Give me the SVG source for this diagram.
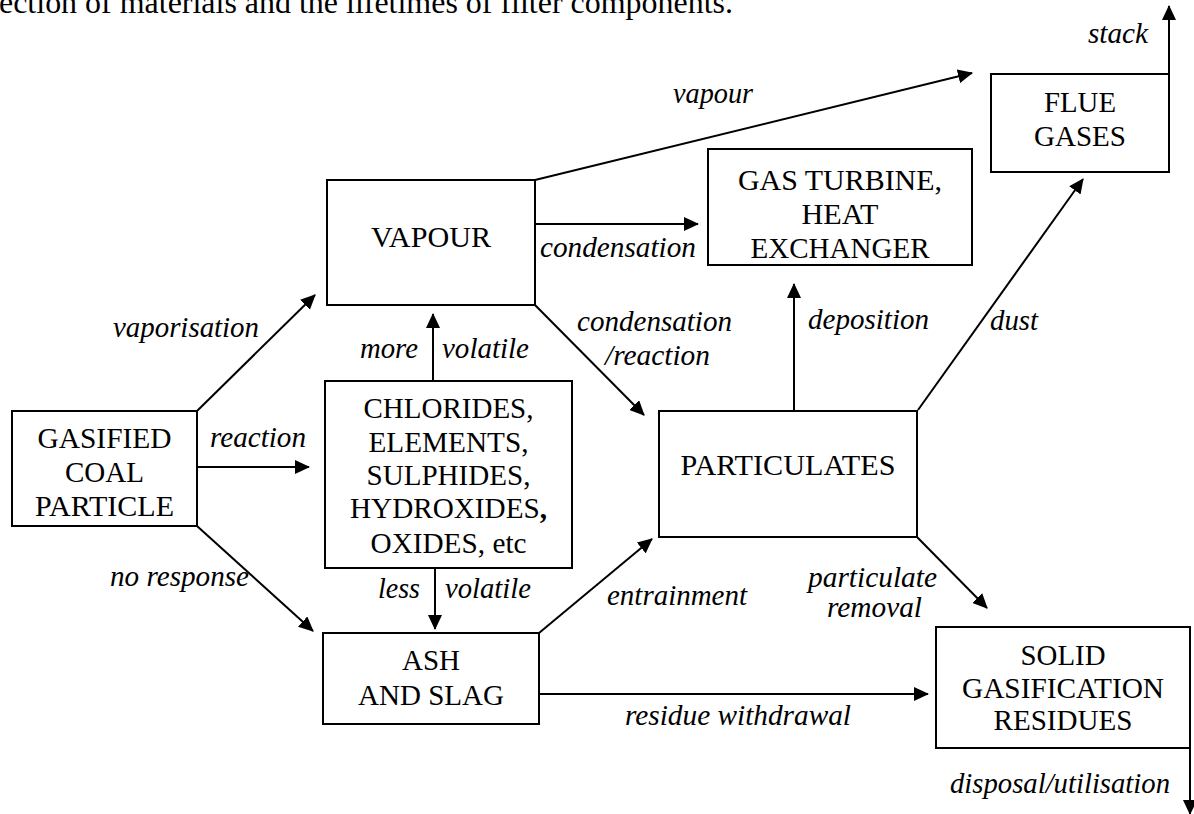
<svg xmlns="http://www.w3.org/2000/svg" width="1194" height="814" viewBox="0 0 1194 814">
<style>
.box{fill:#fff;stroke:#000;stroke-width:2}
.conn line{stroke:#000;stroke-width:2;fill:none;marker-end:url(#ah)}
</style>
<defs>
<marker id="ah" markerUnits="userSpaceOnUse" markerWidth="15" markerHeight="14" refX="14" refY="7" orient="auto">
<path d="M0,0 L15,7 L0,14 z" fill="#000"/>
</marker>
</defs>
<rect width="1194" height="814" fill="#fff"/>
<text x="-1" y="13" font-family="Liberation Serif, serif" font-size="32" textLength="734" lengthAdjust="spacingAndGlyphs">ection of materials and the lifetimes of filter components.</text>

<g class="conn" id="connectors">
<line x1="197" y1="411" x2="315" y2="295"/>
<line x1="197" y1="467" x2="309" y2="467"/>
<line x1="197" y1="526" x2="313" y2="631"/>
<line x1="433" y1="381" x2="433" y2="314"/>
<line x1="435" y1="568" x2="435" y2="629"/>
<line x1="535" y1="180" x2="972" y2="73"/>
<line x1="535" y1="224" x2="698" y2="224"/>
<line x1="535" y1="305" x2="644" y2="415"/>
<line x1="539" y1="633" x2="652" y2="539"/>
<line x1="539" y1="694" x2="928" y2="694"/>
<line x1="794" y1="411" x2="794" y2="284"/>
<line x1="918" y1="410" x2="1083" y2="179"/>
<line x1="917" y1="537" x2="987" y2="608"/>
<line x1="1169" y1="74" x2="1169" y2="6"/>
<line x1="1190" y1="735" x2="1190" y2="814"/>
</g>

<g id="labels" font-family="Liberation Serif, serif" font-size="29" font-style="italic">
<text x="673" y="103" font-family="Liberation Serif, serif" textLength="80" lengthAdjust="spacingAndGlyphs">vapour</text>
<text x="1088" y="43" font-family="Liberation Serif, serif" textLength="60" lengthAdjust="spacingAndGlyphs">stack</text>
<text x="540" y="257" font-family="Liberation Serif, serif" textLength="156" lengthAdjust="spacingAndGlyphs">condensation</text>
<text x="577" y="331" font-family="Liberation Serif, serif" textLength="155" lengthAdjust="spacingAndGlyphs">condensation</text>
<text x="605" y="365" font-family="Liberation Serif, serif" textLength="105" lengthAdjust="spacingAndGlyphs">/reaction</text>
<text x="808" y="329" font-family="Liberation Serif, serif" textLength="121" lengthAdjust="spacingAndGlyphs">deposition</text>
<text x="990" y="330" font-family="Liberation Serif, serif" textLength="48" lengthAdjust="spacingAndGlyphs">dust</text>
<text x="113" y="337" font-family="Liberation Serif, serif" textLength="146" lengthAdjust="spacingAndGlyphs">vaporisation</text>
<text x="360" y="358" font-family="Liberation Serif, serif" textLength="58" lengthAdjust="spacingAndGlyphs">more</text>
<text x="442" y="358" font-family="Liberation Serif, serif" textLength="87" lengthAdjust="spacingAndGlyphs">volatile</text>
<text x="210" y="447" font-family="Liberation Serif, serif" textLength="96" lengthAdjust="spacingAndGlyphs">reaction</text>
<text x="378" y="598" font-family="Liberation Serif, serif" textLength="42" lengthAdjust="spacingAndGlyphs">less</text>
<text x="445" y="598" font-family="Liberation Serif, serif" textLength="86" lengthAdjust="spacingAndGlyphs">volatile</text>
<text x="110" y="586" font-family="Liberation Serif, serif" textLength="139" lengthAdjust="spacingAndGlyphs">no response</text>
<text x="607" y="605" font-family="Liberation Serif, serif" textLength="140" lengthAdjust="spacingAndGlyphs">entrainment</text>
<text x="808" y="587" font-family="Liberation Serif, serif" textLength="129" lengthAdjust="spacingAndGlyphs">particulate</text>
<text x="827" y="617" font-family="Liberation Serif, serif" textLength="95" lengthAdjust="spacingAndGlyphs">removal</text>
<text x="625" y="725" font-family="Liberation Serif, serif" textLength="226" lengthAdjust="spacingAndGlyphs">residue withdrawal</text>
<text x="950" y="793" font-family="Liberation Serif, serif" textLength="220" lengthAdjust="spacingAndGlyphs">disposal/utilisation</text>
</g>

<g font-family="Liberation Serif, serif" font-size="29" text-anchor="middle">
<g id="gasified">
<rect class="box" x="12" y="411" width="185" height="115"/>
<text x="104.5" y="448" font-family="Liberation Serif, serif" textLength="134" lengthAdjust="spacingAndGlyphs">GASIFIED</text>
<text x="104.5" y="482" font-family="Liberation Serif, serif" textLength="79" lengthAdjust="spacingAndGlyphs">COAL</text>
<text x="104.5" y="516" font-family="Liberation Serif, serif" textLength="139" lengthAdjust="spacingAndGlyphs">PARTICLE</text>
</g>
<g id="vapour">
<rect class="box" x="327" y="180" width="208" height="125"/>
<text x="431" y="247" font-family="Liberation Serif, serif" textLength="120" lengthAdjust="spacingAndGlyphs">VAPOUR</text>
</g>
<g id="chlorides">
<rect class="box" x="325" y="381" width="247" height="187"/>
<text x="448.5" y="418" font-family="Liberation Serif, serif" textLength="170" lengthAdjust="spacingAndGlyphs">CHLORIDES,</text>
<text x="448.5" y="452" font-family="Liberation Serif, serif" textLength="160" lengthAdjust="spacingAndGlyphs">ELEMENTS,</text>
<text x="448.5" y="485" font-family="Liberation Serif, serif" textLength="164" lengthAdjust="spacingAndGlyphs">SULPHIDES,</text>
<text x="448.5" y="518" font-family="Liberation Serif, serif" textLength="197" lengthAdjust="spacingAndGlyphs">HYDROXIDES<tspan font-weight="bold">,</tspan></text>
<text x="448.5" y="553" font-family="Liberation Serif, serif" textLength="156" lengthAdjust="spacingAndGlyphs">OXIDES, etc</text>
</g>
<g id="gasturbine">
<rect class="box" x="708" y="149" width="264" height="116"/>
<text x="840" y="190" font-family="Liberation Serif, serif" textLength="204" lengthAdjust="spacingAndGlyphs">GAS TURBINE,</text>
<text x="840" y="224" font-family="Liberation Serif, serif" textLength="77" lengthAdjust="spacingAndGlyphs">HEAT</text>
<text x="840" y="258" font-family="Liberation Serif, serif" textLength="179" lengthAdjust="spacingAndGlyphs">EXCHANGER</text>
</g>
<g id="flue">
<rect class="box" x="991" y="74" width="178" height="98"/>
<text x="1080" y="112" font-family="Liberation Serif, serif" textLength="72" lengthAdjust="spacingAndGlyphs">FLUE</text>
<text x="1080" y="146" font-family="Liberation Serif, serif" textLength="92" lengthAdjust="spacingAndGlyphs">GASES</text>
</g>
<g id="particulates">
<rect class="box" x="659" y="411" width="258" height="126"/>
<text x="788" y="475" font-family="Liberation Serif, serif" textLength="215" lengthAdjust="spacingAndGlyphs">PARTICULATES</text>
</g>
<g id="ash">
<rect class="box" x="323" y="633" width="216" height="91"/>
<text x="431" y="670" font-family="Liberation Serif, serif" textLength="58" lengthAdjust="spacingAndGlyphs">ASH</text>
<text x="431" y="705" font-family="Liberation Serif, serif" textLength="146" lengthAdjust="spacingAndGlyphs">AND SLAG</text>
</g>
<g id="solid">
<rect class="box" x="936" y="627" width="254" height="121"/>
<text x="1063" y="665" font-family="Liberation Serif, serif" textLength="85" lengthAdjust="spacingAndGlyphs">SOLID</text>
<text x="1063" y="698" font-family="Liberation Serif, serif" textLength="202" lengthAdjust="spacingAndGlyphs">GASIFICATION</text>
<text x="1063" y="730" font-family="Liberation Serif, serif" textLength="139" lengthAdjust="spacingAndGlyphs">RESIDUES</text>
</g>
</g>
</svg>
